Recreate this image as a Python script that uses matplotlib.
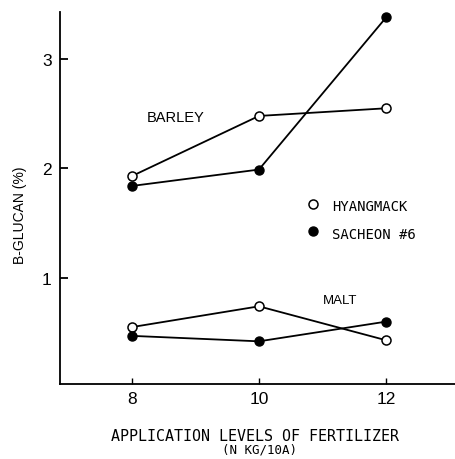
import matplotlib
matplotlib.use("Agg")
import matplotlib.pyplot as plt

levels = [8, 10, 12]
barley_hyangmack = [1.93, 2.48, 2.55]
barley_sacheon = [1.84, 1.99, 3.38]
malt_hyangmack = [0.55, 0.74, 0.43]
malt_sacheon = [0.47, 0.42, 0.60]
yticks = [1, 2, 3]

fig = plt.figure(figsize=(4.56, 4.60), dpi=100)
ax = fig.add_axes([60/456, 75/460, 396/456, 372/460])

mono = "DejaVu Sans Mono"
sans = "Liberation Sans"
lw = 1.3
ms = 6.5
for ys in (barley_hyangmack, malt_hyangmack):
    ax.plot(levels, ys, color="black", lw=lw, marker="o", ms=ms,
            mfc="white", mec="black", mew=1.1, zorder=3)
for ys in (barley_sacheon, malt_sacheon):
    ax.plot(levels, ys, color="black", lw=lw, marker="o", ms=ms,
            mfc="black", mec="black", zorder=3)

ax.set_xlim(6.87, 13.1)
ax.set_ylim(0.03, 3.43)
ax.set_xticks(levels)
ax.set_xticklabels([str(v) for v in levels], fontsize=12.5, family=sans)
ax.set_yticks(yticks)
ax.set_yticklabels([str(v) for v in yticks], fontsize=12.5, family=sans)
ax.tick_params(axis="y", direction="in", length=6, width=1.3, pad=6)
ax.tick_params(axis="x", direction="in", length=4, width=1.0, pad=5)
for s in ("top", "right"):
    ax.spines[s].set_visible(False)
for s in ("left", "bottom"):
    ax.spines[s].set_linewidth(1.3)

ax.text(8.24, 2.47, "BARLEY", fontsize=10.5, family=sans, ha="left", va="center")
ax.text(11.0, 0.80, "MALT", fontsize=9.5, family=sans, ha="left", va="center")

ax.plot([10.85], [1.675], marker="o", ms=ms, mfc="white", mec="black", mew=1.1,
        clip_on=False)
ax.plot([10.85], [1.43], marker="o", ms=ms, mfc="black", mec="black",
        clip_on=False)
ax.text(11.15, 1.66, "HYANGMACK", fontsize=10, family=mono, va="center")
ax.text(11.15, 1.40, "SACHEON #6", fontsize=10, family=mono, va="center")

fig.text(255/456, 1 - 437/460, "APPLICATION LEVELS OF FERTILIZER", fontsize=10.8,
         family=mono, ha="center", va="center")
fig.text(260/456, 1 - 450/460, "(N KG/10A)", fontsize=9,
         family=mono, ha="center", va="center")
fig.text(20/456, 1 - 215/460, "B-GLUCAN (%)", fontsize=10, family=sans,
         rotation=90, ha="center", va="center")

fig.savefig("out.png", dpi=100)
